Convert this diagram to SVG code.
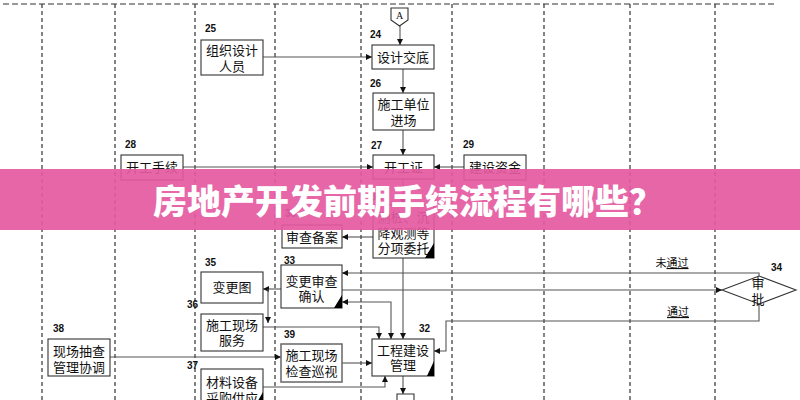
<svg xmlns="http://www.w3.org/2000/svg" width="800" height="400" viewBox="0 0 800 400">
<defs>
<style>
.bx{fill:#fff;stroke:#333;stroke-width:1.1}
.t{font-family:"Noto Sans CJK SC","Liberation Sans",sans-serif;font-size:13px;fill:#111;text-anchor:middle}
.n{font-family:"Liberation Sans",Arial,sans-serif;font-size:10px;font-weight:bold;fill:#111}
.sm{font-family:"Noto Sans CJK SC","Liberation Sans",sans-serif;font-size:11px;fill:#111;text-anchor:middle}
.c{fill:none;stroke:#555;stroke-width:1.1}
.dash{fill:none;stroke:#333;stroke-width:1.2;stroke-dasharray:4 3}
.corner{fill:#000}
</style>
<marker id="ah" viewBox="0 0 10 10" refX="10" refY="5" markerWidth="6" markerHeight="6" orient="auto-start-reverse" markerUnits="userSpaceOnUse">
<path d="M0,0 L10,5 L0,10 z" fill="#111"/>
</marker>
</defs>

<g id="lanes">
<line class="dash" x1="3" y1="4" x2="777" y2="4" style="stroke-dasharray:6 3"/>
<line class="dash" x1="42" y1="4" x2="42" y2="400"/>
<line class="dash" x1="115" y1="4" x2="115" y2="400"/>
<line class="dash" x1="195" y1="4" x2="195" y2="400"/>
<line class="dash" x1="275" y1="4" x2="275" y2="400"/>
<line class="dash" x1="361" y1="4" x2="361" y2="400"/>
<line class="dash" x1="452" y1="4" x2="452" y2="400"/>
<line class="dash" x1="544" y1="4" x2="544" y2="400"/>
<line class="dash" x1="630" y1="4" x2="630" y2="400"/>
<line class="dash" x1="715" y1="4" x2="715" y2="400"/>
</g>

<g id="connectors">
<path class="c" d="M400,26 V45" marker-end="url(#ah)"/>
<path class="c" d="M263,57 H372" marker-end="url(#ah)"/>
<path class="c" d="M403,69 V93" marker-end="url(#ah)"/>
<path class="c" d="M403,130 V155" marker-end="url(#ah)"/>
<path class="c" d="M183,167 H373" marker-end="url(#ah)"/>
<path class="c" d="M464,167 H434" marker-end="url(#ah)"/>
<path class="c" d="M403,179 V205" marker-end="url(#ah)"/>
<path class="c" d="M373,237 H342" marker-end="url(#ah)"/>
<path class="c" d="M403,258 V339" marker-end="url(#ah)"/>
<path class="c" d="M759,276 V273 H342" marker-end="url(#ah)"/>
<path class="c" d="M342,290 H722" marker-end="url(#ah)"/>
<path class="c" d="M759,304 V321 H446 V351 H434" marker-end="url(#ah)"/>
<path class="c" d="M342,302 H391 V339" marker-start="url(#ah)" marker-end="url(#ah)"/>
<path class="c" d="M281,289 H263" marker-end="url(#ah)"/>
<path class="c" d="M268,289 V323" marker-end="url(#ah)"/>
<path class="c" d="M263,327 H379 V339" marker-end="url(#ah)"/>
<path class="c" d="M110,357 H281" marker-end="url(#ah)"/>
<path class="c" d="M342,363 H372" marker-end="url(#ah)"/>
<path class="c" d="M263,387 H385 V376" marker-end="url(#ah)"/>
<path class="c" d="M403,376 V394" marker-end="url(#ah)"/>
<text class="sm" x="672" y="267">未<tspan text-decoration="underline">通过</tspan></text>
<text class="sm" x="678" y="316" text-decoration="underline">通过</text>
</g>

<g id="nodeA">
<path class="bx" d="M391,8 H408 V20 L399.5,26 L391,20 Z"/>
<text x="399.5" y="19" style="font-family:'Liberation Serif',serif;font-size:10px;text-anchor:middle;fill:#111">A</text>
</g>

<g id="node25">
<text class="n" x="205" y="32">25</text>
<rect class="bx" x="201" y="40" width="62" height="35"/>
<text class="t" x="232" y="55">组织设计</text>
<text class="t" x="232" y="71">人员</text>
</g>

<g id="node24">
<text class="n" x="370" y="38">24</text>
<rect class="bx" x="372" y="45" width="62" height="24"/>
<text class="t" x="403" y="62">设计交底</text>
</g>

<g id="node26">
<text class="n" x="370" y="87">26</text>
<rect class="bx" x="373" y="93" width="61" height="37"/>
<text class="t" x="403.5" y="109">施工单位</text>
<text class="t" x="403.5" y="125">进场</text>
</g>

<g id="node27">
<text class="n" x="371" y="149">27</text>
<rect class="bx" x="373" y="155" width="61" height="24"/>
<text class="t" x="403.5" y="172">开工证</text>
</g>

<g id="node28">
<text class="n" x="125" y="148">28</text>
<rect class="bx" x="121" y="155" width="62" height="25"/>
<text class="t" x="152" y="172">开工手续</text>
</g>

<g id="node29">
<text class="n" x="463" y="148">29</text>
<rect class="bx" x="464" y="155" width="62" height="25"/>
<text class="t" x="495" y="172">建设资金</text>
</g>

<g id="node30">
<text class="n" x="285" y="217">30</text>
<rect class="bx" x="282" y="225" width="60" height="23"/>
<text class="t" x="312" y="242">审查备案</text>
</g>

<g id="node31">
<text class="n" x="371" y="200">31</text>
<rect class="bx" x="373" y="205" width="61" height="53"/>
<text class="t" x="403.5" y="222">测桩、沉</text>
<text class="t" x="403.5" y="238">降观测等</text>
<text class="t" x="403.5" y="253">分项委托</text>
<polygon class="corner" points="434,243 434,258 425,258"/>
</g>

<g id="node33">
<text class="n" x="284" y="264">33</text>
<rect class="bx" x="281" y="265" width="61" height="43"/>
<text class="t" x="311.5" y="286">变更审查</text>
<text class="t" x="311.5" y="301">确认</text>
<polygon class="corner" points="342,295 342,308 334,308"/>
</g>

<g id="node34">
<text class="n" x="771" y="271">34</text>
<polygon class="bx" points="722,290 759,276 796,290 759,304"/>
<text class="t" x="758" y="288">审</text>
<text class="t" x="758" y="304">批</text>
</g>

<g id="node35">
<text class="n" x="205" y="266">35</text>
<rect class="bx" x="201" y="272" width="62" height="31"/>
<text class="t" x="232" y="292">变更图</text>
</g>

<g id="node36">
<text class="n" x="187" y="308">36</text>
<rect class="bx" x="201" y="314" width="62" height="37"/>
<text class="t" x="232" y="330">施工现场</text>
<text class="t" x="232" y="345">服务</text>
</g>

<g id="node37">
<text class="n" x="187" y="369">37</text>
<rect class="bx" x="201" y="369" width="62" height="46"/>
<text class="t" x="232" y="387">材料设备</text>
<text class="t" x="232" y="403">采购供应</text>
<polygon class="corner" points="263,392 263,406 255,406"/>
</g>

<g id="node38">
<text class="n" x="53" y="332">38</text>
<rect class="bx" x="48" y="339" width="62" height="37"/>
<text class="t" x="79" y="356">现场抽查</text>
<text class="t" x="79" y="372">管理协调</text>
</g>

<g id="node39">
<text class="n" x="284" y="338">39</text>
<rect class="bx" x="281" y="344" width="61" height="38" style="stroke:#666;stroke-width:1.5"/>
<text class="t" x="311.5" y="360">施工现场</text>
<text class="t" x="311.5" y="376">检查巡视</text>
</g>

<g id="node32">
<text class="n" x="419" y="332">32</text>
<rect class="bx" x="372" y="339" width="62" height="37"/>
<text class="t" x="403" y="355">工程建设</text>
<text class="t" x="403" y="370">管理</text>
<polygon class="corner" points="434,361 434,376 427,376"/>
</g>

<g id="nodeB">
<path class="bx" d="M397,394 H414 V406 L405.5,412 L397,406 Z"/>
</g>

<g id="banner">
<rect x="0" y="169" width="800" height="61" fill="#E4599F" opacity="0.92"/>
<text x="408" y="214" style="font-family:'Noto Sans CJK SC','Noto Sans',sans-serif;font-size:34px;font-weight:900;fill:#fff;text-anchor:middle">房地产开发前期手续流程有哪些？</text>
</g>
</svg>
